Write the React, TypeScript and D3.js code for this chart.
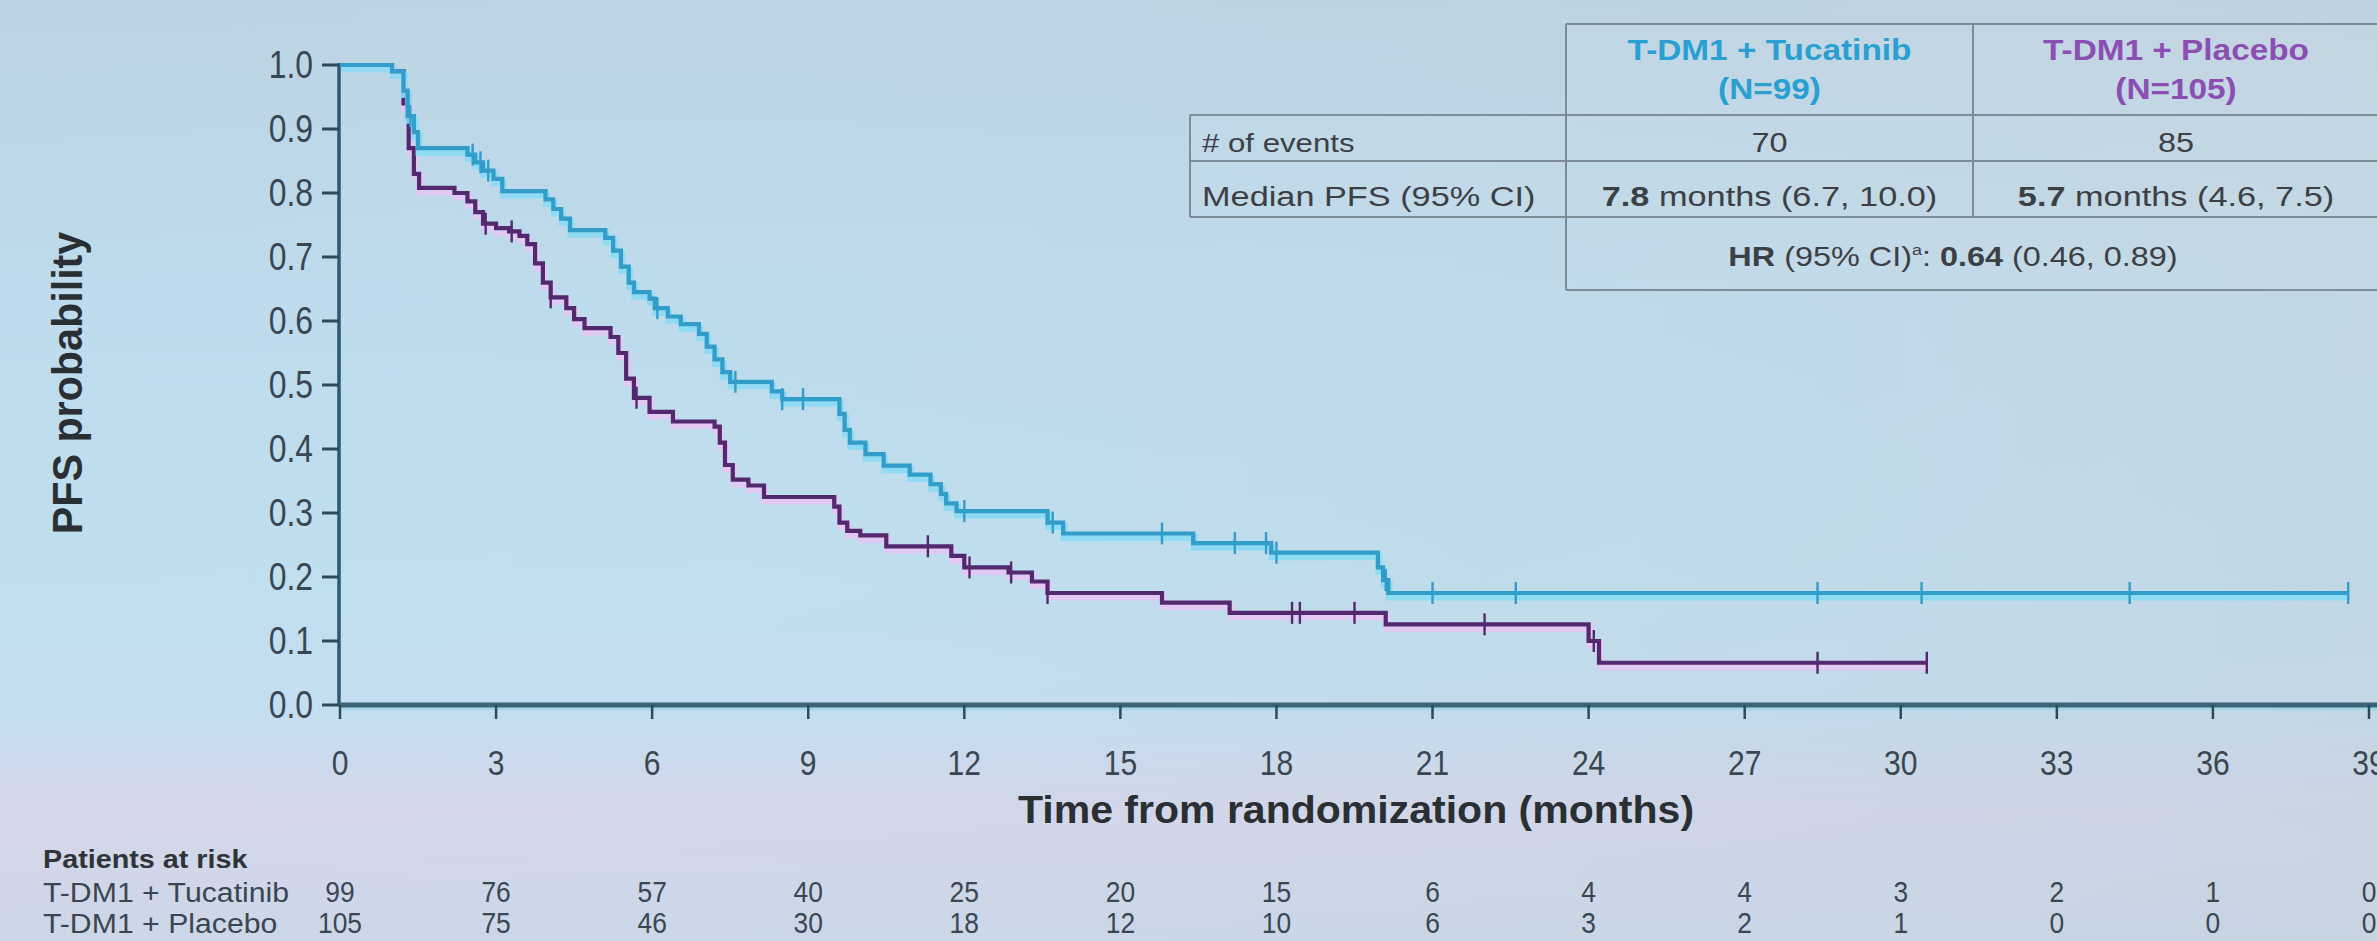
import React, { useEffect } from "react";
import * as d3 from "d3";

// ---------- data ----------
const xTicks = [0, 3, 6, 9, 12, 15, 18, 21, 24, 27, 30, 33, 36, 39];
const yTicks = [0, 0.1, 0.2, 0.3, 0.4, 0.5, 0.6, 0.7, 0.8, 0.9, 1.0];

// Kaplan-Meier steps [time (months), survival after step]
const tucatinibSteps: [number, number][] = [
  [0, 1.0], [1.0, 0.99], [1.22, 0.96], [1.3, 0.92], [1.42, 0.895], [1.5, 0.87],
  [2.45, 0.86], [2.6, 0.848], [2.75, 0.835], [2.95, 0.822], [3.12, 0.803],
  [3.95, 0.79], [4.1, 0.775], [4.25, 0.76], [4.42, 0.742], [5.1, 0.73],
  [5.25, 0.71], [5.4, 0.685], [5.55, 0.66], [5.65, 0.645], [5.95, 0.635],
  [6.05, 0.62], [6.3, 0.607], [6.55, 0.595], [6.9, 0.58], [7.05, 0.56],
  [7.2, 0.54], [7.35, 0.52], [7.5, 0.505], [8.3, 0.49], [8.5, 0.478],
  [9.6, 0.455], [9.7, 0.43], [9.8, 0.41], [10.1, 0.392], [10.45, 0.374],
  [10.95, 0.36], [11.35, 0.345], [11.55, 0.33], [11.65, 0.315], [11.85, 0.303],
  [13.6, 0.285], [13.9, 0.268], [16.4, 0.253], [17.9, 0.238], [19.95, 0.215],
  [20.05, 0.195], [20.15, 0.175],
];
const tucatinibEnd = 38.6;
const tucatinibCensor = [1.35, 2.55, 2.7, 2.85, 6.1, 7.6, 8.5, 8.9, 12.0, 13.7, 15.8, 17.2, 17.8, 18.0, 20.1, 21.0, 22.6, 28.4, 30.4, 34.4, 38.6];

const placeboSteps: [number, number][] = [
  [0, 1.0], [1.0, 0.99], [1.22, 0.94], [1.32, 0.87], [1.42, 0.83], [1.52, 0.808],
  [2.2, 0.8], [2.45, 0.787], [2.6, 0.77], [2.75, 0.752], [3.0, 0.745],
  [3.25, 0.74], [3.45, 0.733], [3.6, 0.72], [3.75, 0.69], [3.9, 0.66],
  [4.05, 0.637], [4.35, 0.62], [4.5, 0.603], [4.7, 0.589], [5.2, 0.575],
  [5.35, 0.55], [5.5, 0.51], [5.65, 0.48], [5.95, 0.458], [6.4, 0.443],
  [7.2, 0.435], [7.3, 0.41], [7.4, 0.375], [7.55, 0.352], [7.85, 0.343],
  [8.15, 0.325], [9.5, 0.31], [9.6, 0.285], [9.75, 0.272], [10.0, 0.265],
  [10.5, 0.248], [11.75, 0.233], [12.0, 0.215], [12.85, 0.207], [13.3, 0.193],
  [13.6, 0.175], [15.8, 0.16], [17.1, 0.144], [20.1, 0.126], [24.0, 0.1],
  [24.2, 0.066],
];
const placeboEnd = 30.5;
const placeboCensor = [2.8, 3.3, 4.05, 5.7, 11.3, 12.1, 12.9, 13.6, 18.3, 18.45, 19.5, 22.0, 24.1, 28.4, 30.5];

const atRiskTucatinib = [99, 76, 57, 40, 25, 20, 15, 6, 4, 4, 3, 2, 1, 0];
const atRiskPlacebo = [105, 75, 46, 30, 18, 12, 10, 6, 3, 2, 1, 0, 0, 0];

const armNames = ["T-DM1 + Tucatinib", "T-DM1 + Placebo"];
const armN = ["(N=99)", "(N=105)"];
const events = ["70", "85"];
const medianBold = ["7.8", "5.7"];
const medianRest = [" months (6.7, 10.0)", " months (4.6, 7.5)"];

// ---------- styles ----------
const W = 2377;
const H = 941;
const FONT = "'Liberation Sans', Arial, Helvetica, sans-serif";
const BLUE = "#319dc8";
const BLUE_GLOW = "#8adaf5";
const PURPLE = "#52296f";
const PURPLE_GLOW = "#e4c6f3";
const TXT = "#3a4650";

const x = d3.scaleLinear().domain([0, 39]).range([340, 2369]);
const y = d3.scaleLinear().domain([0, 1]).range([705, 65]);

function survAt(steps: [number, number][], t: number) {
  let s = steps[0][1];
  for (const [tt, v] of steps) if (tt <= t) s = v;
  return s;
}

function T(props: {
  x: number; y: number; sx?: number; size: number; weight?: string | number;
  anchor?: string; fill?: string; children: React.ReactNode; rotate?: number;
}) {
  const { sx = 1, size, weight = "normal", anchor = "start", fill = TXT, rotate = 0 } = props;
  return (
    <text
      transform={`translate(${props.x},${props.y}) rotate(${rotate}) scale(${sx},1)`}
      fontFamily={FONT}
      fontSize={size}
      fontWeight={weight}
      textAnchor={anchor}
      fill={fill}
    >
      {props.children}
    </text>
  );
}

function Curve({ steps, end, censor, color, glow }: {
  steps: [number, number][]; end: number; censor: number[]; color: string; glow: string;
}) {
  const pts: [number, number][] = [...steps, [end, steps[steps.length - 1][1]]];
  const line = d3.line<[number, number]>()
    .x((d) => x(d[0]))
    .y((d) => y(d[1]))
    .curve(d3.curveStepAfter);
  const p = line(pts) || "";
  return (
    <g>
      <path d={p} transform="translate(1,4)" fill="none" stroke={glow} strokeWidth={7} strokeLinejoin="miter" opacity={0.9} />
      <path d={p} fill="none" stroke={color} strokeWidth={4.2} strokeLinejoin="miter" />
      {censor.map((t, i) => (
        <line key={i} x1={x(t)} x2={x(t)} y1={y(survAt(steps, t)) - 11} y2={y(survAt(steps, t)) + 11}
          stroke={color} strokeWidth={2.4} />
      ))}
    </g>
  );
}

export default function App() {
  useEffect(() => {
    document.body.style.margin = "0";
  }, []);

  // table geometry
  const tL = 1190, c1 = 1566, c2 = 1973, tR = 2382;
  const r0 = 24, r1 = 115, r2 = 161, r3 = 217, r4 = 290;
  const gridColor = "#7d8d98";
  const col1C = (c1 + c2) / 2;
  const col2C = (c2 + 2377) / 2 + 1;

  return (
    <svg width={W} height={H} viewBox={`0 0 ${W} ${H}`}
      style={{ position: "absolute", left: 0, top: 0, display: "block" }}>
      <defs>
        <linearGradient id="bgV" x1="0" y1="0" x2="0" y2="1">
          <stop offset="0%" stopColor="#bcd3e3" />
          <stop offset="30%" stopColor="#bddbec" />
          <stop offset="62%" stopColor="#bfdfef" />
          <stop offset="76%" stopColor="#c4def0" />
          <stop offset="86%" stopColor="#d6d6ea" />
          <stop offset="100%" stopColor="#ccd7e8" />
        </linearGradient>
        <linearGradient id="bgH" x1="0" y1="0" x2="1" y2="0">
          <stop offset="0%" stopColor="#c0e0f2" stopOpacity="0" />
          <stop offset="55%" stopColor="#c2d6e4" stopOpacity="0.25" />
          <stop offset="100%" stopColor="#c4d2de" stopOpacity="0.6" />
        </linearGradient>
      </defs>
      <rect x={0} y={0} width={W} height={H} fill="url(#bgV)" />
      <rect x={0} y={0} width={W} height={H} fill="url(#bgH)" />

      {/* table */}
      <g>
        <rect x={c1} y={r0} width={tR - c1} height={r1 - r0} fill="#ffffff" opacity={0.06} />
        <rect x={tL} y={r1} width={tR - tL} height={r3 - r1} fill="#ffffff" opacity={0.06} />
        <rect x={c1} y={r3} width={tR - c1} height={r4 - r3} fill="#ffffff" opacity={0.06} />
        <g stroke={gridColor} strokeWidth={2} fill="none">
          <line x1={c1} x2={tR} y1={r0} y2={r0} />
          <line x1={tL} x2={tR} y1={r1} y2={r1} />
          <line x1={tL} x2={tR} y1={r2} y2={r2} />
          <line x1={tL} x2={tR} y1={r3} y2={r3} />
          <line x1={c1} x2={tR} y1={r4} y2={r4} />
          <line x1={tL} x2={tL} y1={r1} y2={r3} />
          <line x1={c1} x2={c1} y1={r0} y2={r4} />
          <line x1={c2} x2={c2} y1={r0} y2={r3} />
        </g>
        <T x={col1C} y={60} size={29} weight="bold" anchor="middle" sx={1.15} fill="#2a9fd2">{armNames[0]}</T>
        <T x={col1C} y={99} size={29} weight="bold" anchor="middle" sx={1.15} fill="#2a9fd2">{armN[0]}</T>
        <T x={col2C} y={60} size={29} weight="bold" anchor="middle" sx={1.15} fill="#8b4fb3">{armNames[1]}</T>
        <T x={col2C} y={99} size={29} weight="bold" anchor="middle" sx={1.15} fill="#8b4fb3">{armN[1]}</T>

        <T x={1202} y={152} size={26} sx={1.2} fill="#3c4044">{"# of events"}</T>
        <T x={1202} y={206} size={27} sx={1.27} fill="#3c4044">{"Median PFS (95% CI)"}</T>
        <T x={col1C} y={152} size={27} sx={1.2} anchor="middle" fill="#3c4044">{events[0]}</T>
        <T x={col2C} y={152} size={27} sx={1.2} anchor="middle" fill="#3c4044">{events[1]}</T>
        {[col1C, col2C].map((cx, i) => (
          <text key={i} transform={`translate(${cx},206) scale(1.27,1)`} fontFamily={FONT} fontSize={27}
            textAnchor="middle" fill="#3c4044">
            <tspan fontWeight="bold">{medianBold[i]}</tspan>
            <tspan>{medianRest[i]}</tspan>
          </text>
        ))}
        <text transform={`translate(1953,266) scale(1.2,1)`} fontFamily={FONT} fontSize={27}
          textAnchor="middle" fill="#3c4044">
          <tspan fontWeight="bold">HR</tspan>
          <tspan>{" (95% CI)"}</tspan>
          <tspan fontSize={15} dy={-11}>a</tspan>
          <tspan dy={11}>{": "}</tspan>
          <tspan fontWeight="bold">0.64</tspan>
          <tspan>{" (0.46, 0.89)"}</tspan>
        </text>
      </g>

      {/* y axis */}
      <line x1={339} x2={339} y1={y(1) - 2} y2={y(0)} stroke="#2c5870" strokeWidth={3.5} />
      {yTicks.map((t) => (
        <g key={t}>
          <line x1={322} x2={339} y1={y(t)} y2={y(t)} stroke="#2c4a5a" strokeWidth={3} />
          <T x={313} y={y(t) + 13} size={38} sx={0.84} anchor="end">{t.toFixed(1)}</T>
        </g>
      ))}
      <T x={82} y={383} size={43} sx={0.96} weight="bold" anchor="middle" rotate={-90} fill="#2a2f33">{"PFS probability"}</T>

      {/* x axis */}
      <line x1={339} x2={W} y1={y(0) + 4} y2={y(0) + 4} stroke="#a6d6ea" strokeWidth={3} />
      <line x1={339} x2={W} y1={y(0)} y2={y(0)} stroke="#3b6478" strokeWidth={5} />
      {xTicks.map((t) => (
        <g key={t}>
          <line x1={x(t)} x2={x(t)} y1={y(0)} y2={y(0) + 14} stroke="#2c4a5a" strokeWidth={2.5} />
          <T x={x(t)} y={775} size={35} sx={0.86} anchor="middle">{String(t)}</T>
        </g>
      ))}
      <T x={1356} y={823} size={38} sx={1.08} weight="bold" anchor="middle" fill="#2a2f33">{"Time from randomization (months)"}</T>

      {/* curves */}
      <Curve steps={placeboSteps} end={placeboEnd} censor={placeboCensor} color={PURPLE} glow={PURPLE_GLOW} />
      <Curve steps={tucatinibSteps} end={tucatinibEnd} censor={tucatinibCensor} color={BLUE} glow={BLUE_GLOW} />

      {/* patients at risk */}
      <T x={43} y={868} size={25} sx={1.15} weight="bold" fill="#2f3438">{"Patients at risk"}</T>
      <T x={43} y={902} size={27} sx={1.12} fill="#3c4650">{armNames[0]}</T>
      <T x={43} y={933} size={27} sx={1.12} fill="#3c4650">{armNames[1]}</T>
      {xTicks.map((t, i) => (
        <g key={t}>
          <T x={x(t)} y={902} size={30} sx={0.88} anchor="middle" fill="#3c4650">{String(atRiskTucatinib[i])}</T>
          <T x={x(t)} y={933} size={30} sx={0.88} anchor="middle" fill="#3c4650">{String(atRiskPlacebo[i])}</T>
        </g>
      ))}
    </svg>
  );
}
